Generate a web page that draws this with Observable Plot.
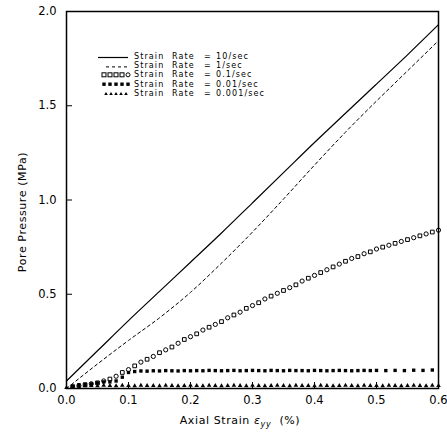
<!DOCTYPE html>
<html>
<head>
<meta charset="utf-8">
<script src="https://cdn.jsdelivr.net/npm/d3@7"></script>
<script src="https://cdn.jsdelivr.net/npm/@observablehq/plot@0.6"></script>
<style>
  html, body { margin: 0; padding: 0; background: #fff; }
  #chart svg { display: block; }
</style>
</head>
<body>
<div id="chart"></div>
<script>
// ---- data ----
const xTicks = [0, 0.1, 0.2, 0.3, 0.4, 0.5, 0.6];
const yTicks = [0, 0.5, 1.0, 1.5, 2.0];

const lineX  = [0, 0.05, 0.10, 0.15, 0.20, 0.25, 0.30, 0.35, 0.40, 0.45, 0.50, 0.55, 0.60];
const rate10 = [0.04, 0.20, 0.36, 0.515, 0.67, 0.825, 0.985, 1.145, 1.305, 1.46, 1.615, 1.77, 1.93];
const rate1  = [0.00, 0.13, 0.255, 0.375, 0.51, 0.665, 0.83, 1.005, 1.185, 1.36, 1.525, 1.685, 1.845];

const markX = [0.01,0.02,0.03,0.04,0.05,0.06,0.07,0.08,0.09,0.10,
               0.11,0.12,0.13,0.14,0.15,0.16,0.17,0.18,0.19,0.20,
               0.21,0.22,0.23,0.24,0.25,0.26,0.27,0.28,0.29,0.30,
               0.31,0.32,0.33,0.34,0.35,0.36,0.37,0.38,0.39,0.40,
               0.41,0.42,0.43,0.44,0.45,0.46,0.47,0.48,0.49,0.50,
               0.51,0.52,0.53,0.54,0.55,0.56,0.57,0.58,0.59,0.60];
const rate01 = [0.01,0.015,0.02,0.025,0.03,0.04,0.05,0.065,0.085,0.10,
                0.12,0.14,0.155,0.17,0.19,0.205,0.22,0.24,0.26,0.275,
                0.29,0.31,0.325,0.34,0.355,0.375,0.39,0.405,0.425,0.44,
                0.455,0.475,0.49,0.505,0.52,0.535,0.55,0.57,0.585,0.60,
                0.615,0.63,0.645,0.66,0.675,0.69,0.70,0.715,0.725,0.74,
                0.75,0.76,0.77,0.78,0.79,0.80,0.81,0.82,0.83,0.84];

const sqX = [0.01,0.02,0.03,0.04,0.05,0.06,0.07,0.08,0.09,0.10,
             0.11,0.12,0.13,0.14,0.15,0.16,0.17,0.18,0.19,0.20,
             0.21,0.22,0.23,0.24,0.25,0.26,0.27,0.28,0.29,0.30,
             0.31,0.32,0.33,0.34,0.35,0.36,0.37,0.38,0.39,0.40,
             0.41,0.42,0.43,0.44,0.45,0.46,0.47,0.48,0.49,0.50,
             0.515,0.53,0.545,0.56,0.575,0.59];
const rate001 = [0.01,0.02,0.022,0.025,0.03,0.035,0.035,0.04,0.06,0.085,
                 0.09,0.093,0.092,0.094,0.093,0.095,0.094,0.093,0.095,0.094,
                 0.095,0.094,0.096,0.095,0.094,0.095,0.096,0.094,0.095,0.096,
                 0.095,0.094,0.096,0.095,0.094,0.096,0.095,0.095,0.094,0.096,
                 0.095,0.094,0.095,0.096,0.095,0.094,0.095,0.096,0.095,0.096,
                 0.095,0.096,0.095,0.097,0.096,0.098];

const triX = [0.00,0.01,0.02,0.03,0.04,0.05,0.06,0.07,0.08,0.09,0.10,
              0.11,0.12,0.13,0.14,0.15,0.16,0.17,0.18,0.19,0.20,
              0.21,0.22,0.23,0.24,0.25,0.26,0.27,0.28,0.29,0.30,
              0.31,0.32,0.33,0.34,0.35,0.36,0.37,0.38,0.39,0.40,
              0.41,0.42,0.43,0.44,0.45,0.46,0.47,0.48,0.49,0.50,
              0.51,0.52,0.53,0.54,0.55,0.56,0.57,0.58,0.59,0.60];
const rate0001 = [0.005,0.01,0.012,0.014,0.015,0.014,0.016,0.015,0.014,0.016,0.015,
                  0.014,0.016,0.015,0.015,0.014,0.016,0.015,0.014,0.015,0.016,
                  0.015,0.014,0.016,0.015,0.014,0.015,0.016,0.015,0.014,0.016,
                  0.015,0.014,0.015,0.016,0.015,0.014,0.016,0.015,0.015,0.014,
                  0.016,0.015,0.014,0.015,0.016,0.015,0.014,0.016,0.015,0.015,
                  0.014,0.016,0.015,0.014,0.015,0.016,0.015,0.014,0.016,0.015];

const legendValues = ["10/sec", "1/sec", "0.1/sec", "0.01/sec", "0.001/sec"];
const yLabel = "Pore Pressure (MPa)";

// ---- build tables ----
const solidData  = lineX.map((x, i) => ({x, y: rate10[i]}));
const dashedData = lineX.map((x, i) => ({x, y: rate1[i]}));
const openData   = markX.map((x, i) => ({x, y: rate01[i], s: i % 2 ? "circle" : "square"}));
const sqData     = sqX.map((x, i) => ({x, y: rate001[i]}));
const triData    = triX.map((x, i) => ({x, y: rate0001[i]}));

const font = "DejaVu Sans, sans-serif";

const chart = Plot.plot({
  width: 447,
  height: 433,
  marginLeft: 66,
  marginRight: 9,
  marginTop: 11,
  marginBottom: 45,
  style: {fontFamily: font, fontSize: "11px", background: "#fff", color: "#000"},
  x: {domain: [0, 0.6]},
  y: {domain: [0, 2]},
  marks: [
    // inward ticks
    Plot.axisX({ticks: xTicks, tickSize: 6, dy: -6, text: null, label: null, strokeWidth: 1}),
    Plot.axisY({ticks: yTicks, tickSize: 6, dx: 6, text: null, label: null, strokeWidth: 1}),
    // tick labels
    Plot.axisX({ticks: xTicks, tickSize: 0, tickPadding: 7, tickFormat: d3.format(".1f"), label: null, fontSize: 11.5}),
    Plot.axisY({ticks: yTicks, tickSize: 0, tickPadding: 10, tickFormat: d3.format(".1f"), label: null, fontSize: 11.5}),
    Plot.line(solidData, {x: "x", y: "y", stroke: "black", strokeWidth: 1.2, curve: "monotone-x"}),
    Plot.line(dashedData, {x: "x", y: "y", stroke: "black", strokeWidth: 1, strokeDasharray: "3,3", curve: "monotone-x"}),
    Plot.dot(openData, {x: "x", y: "y", symbol: "s", r: 2.1, stroke: "black", fill: "white", strokeWidth: 1}),
    Plot.dot(sqData, {x: "x", y: "y", symbol: "square", r: 1.9, fill: "black"}),
    Plot.dot(triData, {x: "x", y: "y", symbol: "triangle", r: 1.7, fill: "black"}),
    Plot.frame({stroke: "black", strokeWidth: 1.5})
  ]
});

document.getElementById("chart").appendChild(chart);

// ---- axis titles and legend (added onto the SVG) ----
const svg = d3.select(chart);

svg.append("text")
  .attr("transform", "translate(22,212) rotate(-90)")
  .attr("text-anchor", "middle")
  .attr("dominant-baseline", "central")
  .attr("font-family", font)
  .attr("font-size", 11)
  .attr("letter-spacing", "0.6px")
  .text(yLabel);

const xl = svg.append("text")
  .attr("x", 240).attr("y", 424)
  .attr("text-anchor", "middle")
  .attr("font-family", font)
  .attr("font-size", 11)
  .attr("letter-spacing", "0.6px");
xl.append("tspan").text("Axial Strain ");
xl.append("tspan").attr("font-style", "italic").text("ε");
xl.append("tspan").attr("font-style", "italic").attr("font-size", 8).attr("dy", 3).text("yy");
xl.append("tspan").attr("dy", -3).text("  (%)");

const lg = svg.append("g").attr("font-family", font).attr("font-size", 8)
  .attr("letter-spacing", "1.1px").attr("text-anchor", "start");
const rowY = i => 55.5 + i * 9.4;
legendValues.forEach((v, i) => {
  const y = rowY(i);
  const t = (x, s) => lg.append("text").attr("x", x).attr("y", y + 3).attr("text-anchor", "start").text(s);
  t(134, "Strain");
  t(172, "Rate");
  t(204, "=");
  t(216, v);
  const sx0 = 98, sx1 = 128;
  const my = y + 0.5;
  if (i === 0) {
    lg.append("line").attr("x1", sx0).attr("x2", sx1).attr("y1", my + 1.5).attr("y2", my + 1.5).attr("stroke", "black").attr("stroke-width", 1.2);
  } else if (i === 1) {
    lg.append("line").attr("x1", sx0 + 8).attr("x2", sx1).attr("y1", my + 1.5).attr("y2", my + 1.5).attr("stroke", "black").attr("stroke-width", 1).attr("stroke-dasharray", "3,3");
  } else if (i === 2) {
    for (let k = 0; k < 5; k++) {
      const cx = 104 + k * 6;
      if (k === 4) lg.append("circle").attr("cx", cx).attr("cy", my).attr("r", 2).attr("fill", "white").attr("stroke", "black");
      else lg.append("rect").attr("x", cx - 2).attr("y", my - 2).attr("width", 4).attr("height", 4).attr("fill", "white").attr("stroke", "black");
    }
  } else if (i === 3) {
    for (let k = 0; k < 5; k++) {
      const cx = 104 + k * 6;
      lg.append("rect").attr("x", cx - 1.7).attr("y", my - 1.7).attr("width", 3.4).attr("height", 3.4).attr("fill", "black");
    }
  } else {
    for (let k = 0; k < 5; k++) {
      const cx = 106 + k * 5;
      lg.append("path").attr("d", `M${cx},${my - 1.5}L${cx + 1.8},${my + 1.5}L${cx - 1.8},${my + 1.5}Z`).attr("fill", "black");
    }
  }
});
</script>
</body>
</html>
